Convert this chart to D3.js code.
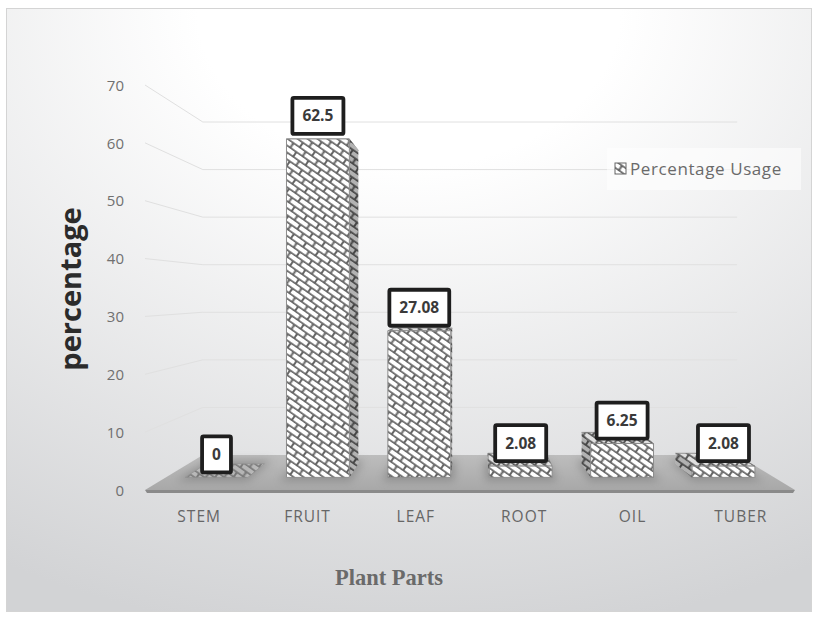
<!DOCTYPE html>
<html>
<head>
<meta charset="utf-8">
<script src="https://cdn.jsdelivr.net/npm/d3@7"></script>
<style>
  html, body { margin: 0; padding: 0; background: #ffffff; }
  svg { display: block; }
</style>
</head>
<body>
<svg id="chart" width="818" height="619"></svg>
<script>
// ---- data ----
const categories = ["STEM", "FRUIT", "LEAF", "ROOT", "OIL", "TUBER"];
const usage = [0, 62.5, 27.08, 2.08, 6.25, 2.08];
const yTicks = [0, 10, 20, 30, 40, 50, 60, 70];
const seriesName = "Percentage Usage";
const xTitle = "Plant Parts";
const yTitle = "percentage";

// ---- layout ----
const svg = d3.select("#chart");
const defs = svg.append("defs");
const sans = "'Open Sans', Lato, sans-serif";

// front plane scales (depth z = 0)
const x = d3.scaleBand().domain(categories).range([145, 795])
  .paddingInner(0.38).paddingOuter(0.19);
const y = d3.scaleLinear().domain([0, 70]).range([490, 85]);
// perspective shrink with depth: z = 0 front wall edge, z = 1 back wall
const k = d3.scaleLinear().domain([0, 1]).range([1, 0.822]);
const V = { x: 470, y: 293 };
const proj = (px, py, z) => [V.x + (px - V.x) * k(z), V.y + (py - V.y) * k(z)];
const poly = pts => "M" + pts.map(p => p.join(",")).join("L") + "Z";
const zFront = 0.36, zBack = 0.75;

// background
const bg = defs.append("radialGradient").attr("id", "bgGrad")
  .attr("cx", "50%").attr("cy", "0%").attr("r", "105%")
  .attr("fx", "50%").attr("fy", "0%");
bg.append("stop").attr("offset", "0.25").attr("stop-color", "#ffffff");
bg.append("stop").attr("offset", "1").attr("stop-color", "#d2d3d5");
svg.append("rect").attr("x", 6.5).attr("y", 8.5).attr("width", 805).attr("height", 603)
  .attr("fill", "url(#bgGrad)").attr("stroke", "#d4d4d4");

// brick fill
const brick = defs.append("pattern").attr("id", "brick")
  .attr("patternUnits", "userSpaceOnUse").attr("width", 15).attr("height", 11.4)
  .attr("patternTransform", "rotate(35)");
brick.append("rect").attr("width", 15).attr("height", 11.4).attr("fill", "#666666");
[[1, 1], [-6.5, 6.7], [8.5, 6.7]].forEach(([bx, by]) =>
  brick.append("rect").attr("x", bx).attr("y", by).attr("width", 13).attr("height", 4.1)
    .attr("rx", 0.9).attr("fill", "#ffffff"));

// shadow blur
defs.append("filter").attr("id", "soft").attr("x", "-50%").attr("y", "-50%")
  .attr("width", "200%").attr("height", "200%")
  .append("feGaussianBlur").attr("stdDeviation", 4);

// ---- floor ----
const floorGrad = defs.append("linearGradient").attr("id", "floorGrad")
  .attr("x1", 0).attr("y1", 0).attr("x2", 0).attr("y2", 1);
floorGrad.append("stop").attr("offset", 0).attr("stop-color", "#bdbdbd");
floorGrad.append("stop").attr("offset", 1).attr("stop-color", "#a8a8a8");
const x0 = x.range()[0], x1 = x.range()[1];
svg.append("path")
  .attr("d", poly([proj(x0, y(0), 0), proj(x1, y(0), 0), proj(x1, y(0), 1), proj(x0, y(0), 1)]))
  .attr("fill", "url(#floorGrad)");
// floor front edge
svg.append("path")
  .attr("d", poly([proj(x0, y(0), 0), proj(x1, y(0), 0), [x1 - 2, y(0) + 3], [x0 + 2, y(0) + 3]]))
  .attr("fill", "#8a8a8a");

// ---- walls: gridlines on left and back walls ----
const grid = svg.append("g").attr("stroke", "#e0e0e0").attr("fill", "none").attr("stroke-width", 1);
yTicks.filter(v => v > 0).forEach(v => {
  const a = proj(x0, y(v), 0), b = proj(x0, y(v), 1), c = proj(x1, y(v), 1);
  grid.append("path").attr("d", `M${a}L${b}L${c}`);
});

// ---- shadows under bars ----
const shadows = svg.append("g").attr("filter", "url(#soft)").attr("opacity", 0.35);
categories.forEach(c => {
  const bx0 = x(c) - 4, bx1 = x(c) + x.bandwidth() + 4;
  shadows.append("path")
    .attr("d", poly([proj(bx0, y(0), zFront - 0.1), proj(bx1, y(0), zFront - 0.1),
                     proj(bx1, y(0), zBack + 0.1), proj(bx0, y(0), zBack + 0.1)]))
    .attr("fill", "#555");
});

// ---- bars ----
const bars = svg.append("g");
categories.forEach((c, i) => {
  const v = usage[i];
  const bx0 = x(c), bx1 = x(c) + x.bandwidth();
  const yb = y(0), yt = y(v);
  const g = bars.append("g").attr("opacity", v > 0 ? 1 : 0.45);
  // top
  const top = poly([proj(bx0, yt, zFront), proj(bx1, yt, zFront), proj(bx1, yt, zBack), proj(bx0, yt, zBack)]);
  g.append("path").attr("d", top).attr("fill", "url(#brick)")
    .attr("stroke", "#8a8a8a").attr("stroke-width", 0.8);
  g.append("path").attr("d", top).attr("fill", "#000").attr("opacity", 0.12);
  if (v > 0) {
    // side facing the viewer
    const sx = (bx0 + bx1) / 2 < V.x ? bx1 : bx0;
    const side = poly([proj(sx, yb, zFront), proj(sx, yb, zBack), proj(sx, yt, zBack), proj(sx, yt, zFront)]);
    g.append("path").attr("d", side).attr("fill", "url(#brick)");
    g.append("path").attr("d", side).attr("fill", "#000").attr("opacity", 0.3);
    // front
    g.append("path")
      .attr("d", poly([proj(bx0, yb, zFront), proj(bx1, yb, zFront), proj(bx1, yt, zFront), proj(bx0, yt, zFront)]))
      .attr("fill", "url(#brick)").attr("stroke", "#8c8c8c").attr("stroke-width", 1);
  }
});

// ---- data labels ----
const labels = svg.append("g")
  .attr("font-family", sans).attr("font-weight", "bold")
  .attr("font-size", 15.5).attr("fill", "#3a3a3a");
categories.forEach((c, i) => {
  const v = usage[i];
  const [cx, topY] = proj(x(c) + x.bandwidth() / 2, y(v), zFront);
  const t = labels.append("text").attr("x", cx).attr("y", 0)
    .attr("text-anchor", "middle").text(String(v));
  const tw = t.node().getComputedTextLength();
  const bw = Math.max(28, tw + 20), bh = 36;
  const bottom = topY - 5;
  labels.append("rect")
    .attr("x", cx - bw / 2).attr("y", bottom - bh).attr("width", bw).attr("height", bh)
    .attr("fill", "#ffffff").attr("stroke", "#1e1e1e").attr("stroke-width", 3.8).attr("rx", 1.5);
  t.attr("y", bottom - bh / 2 + 5.5);
  t.raise();
});

// ---- axes ----
const yAxis = svg.append("g").attr("transform", "translate(124,0)")
  .call(d3.axisLeft(y).tickValues(yTicks).tickSize(0).tickPadding(0));
yAxis.select(".domain").remove();
yAxis.selectAll("text").attr("font-family", sans)
  .attr("font-size", 15).attr("fill", "#707070").attr("dy", "0.35em");

const xAxis = svg.append("g").attr("transform", "translate(0,511)")
  .call(d3.axisBottom(x).tickSize(0).tickPadding(0));
xAxis.select(".domain").remove();
xAxis.selectAll("text").attr("font-family", sans)
  .attr("font-size", 15.5).attr("letter-spacing", 1).attr("fill", "#666666");

// axis titles
svg.append("text").attr("transform", "translate(81,289) rotate(-90)")
  .attr("text-anchor", "middle").attr("font-family", sans)
  .attr("font-weight", "bold").attr("font-size", 29).attr("fill", "#2b2b2b").text(yTitle);
svg.append("text").attr("x", 389).attr("y", 585).attr("text-anchor", "middle")
  .attr("font-family", "'Liberation Serif', 'DejaVu Serif', serif").attr("font-weight", "bold")
  .attr("font-size", 22.5).attr("fill", "#6a6a6a").text(xTitle);

// ---- legend ----
const legend = svg.append("g").attr("transform", "translate(607,148)");
legend.append("rect").attr("width", 194).attr("height", 42).attr("fill", "#ffffff").attr("opacity", 0.55);
legend.append("rect").attr("x", 8).attr("y", 15).attr("width", 11).attr("height", 11)
  .attr("fill", "url(#brick)").attr("stroke", "#666").attr("stroke-width", 1);
legend.append("text").attr("x", 23).attr("y", 26.5).attr("font-family", sans)
  .attr("font-size", 17).attr("letter-spacing", 0.6).attr("fill", "#6a6a6a").text(seriesName);
</script>
</body>
</html>
